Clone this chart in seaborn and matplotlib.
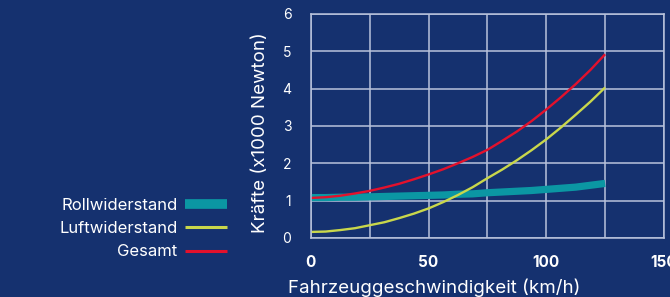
import pandas as pd
import matplotlib.pyplot as plt
import seaborn as sns

# speed (km/h) and forces (x1000 N)
speed = [0, 6.25, 12.5, 18.75, 25, 31.25, 37.5, 43.75, 50, 56.25, 62.5,
         68.75, 75, 81.25, 87.5, 93.75, 100, 106.25, 112.5, 118.75, 125]
roll = [1.08, 1.08, 1.09, 1.09, 1.10, 1.11, 1.12, 1.13, 1.14, 1.15, 1.17,
        1.18, 1.21, 1.23, 1.25, 1.27, 1.30, 1.33, 1.36, 1.41, 1.46]
luft = [0.16, 0.17, 0.21, 0.26, 0.34, 0.42, 0.53, 0.65, 0.79, 0.96, 1.15,
        1.36, 1.60, 1.83, 2.08, 2.35, 2.64, 2.96, 3.30, 3.65, 4.03]
gesamt = [1.07, 1.09, 1.13, 1.19, 1.26, 1.35, 1.45, 1.57, 1.70, 1.84, 2.00,
          2.17, 2.36, 2.60, 2.85, 3.13, 3.44, 3.77, 4.12, 4.50, 4.92]

bg = '#15316f'
grid = '#b9c3dc'
names = ['Rollwiderstand', 'Luftwiderstand', 'Gesamt']

df = pd.DataFrame({'v': speed, 'Rollwiderstand': roll, 'Luftwiderstand': luft, 'Gesamt': gesamt})
long = df.melt(id_vars='v', var_name='Kraft', value_name='F')

sns.set_style('dark')
plt.rcParams['font.family'] = ['Inter', 'DejaVu Sans']

fig = plt.figure(figsize=(6.7, 2.97), dpi=100, facecolor=bg)
ax = fig.add_axes([0.464, 0.199, 0.527, 0.754])
ax.set_facecolor(bg)

palette = {'Rollwiderstand': '#0b97a3', 'Luftwiderstand': '#c9d74b', 'Gesamt': '#e3112c'}
widths = {'Rollwiderstand': 5.2, 'Luftwiderstand': 1.7, 'Gesamt': 1.7}
for name in names:
    sns.lineplot(data=long[long['Kraft'] == name], x='v', y='F', color=palette[name],
                 linewidth=widths[name], label=name, ax=ax, solid_capstyle='butt')

ax.set_xlim(0, 150)
ax.set_ylim(0, 6)
ax.set_xticks([0, 25, 50, 75, 100, 125, 150])
ax.set_xticklabels(['0', '', '50', '', '100', '', '150'], fontweight='bold', fontsize=11)
ax.set_yticks(range(7))
ax.tick_params(axis='x', colors='white', length=0, pad=12)
ax.tick_params(axis='y', colors='white', length=0, pad=14, labelsize=10)
ax.grid(True, color=grid, linewidth=1.1)
for s in ax.spines.values():
    s.set_color(grid)
    s.set_linewidth(1.1)
ax.set_xlabel('Fahrzeuggeschwindigkeit (km/h)', color='white', fontsize=13.5)
ax.xaxis.set_label_coords(0.35, -0.18)
ax.set_ylabel('Kräfte (x1000 Newton)', color='white', fontsize=13.5)
ax.yaxis.set_label_coords(-0.118, 0.471)

leg = ax.legend(loc='upper right', bbox_to_anchor=(0.351, 0.362), bbox_transform=fig.transFigure,
                markerfirst=False, frameon=False, fontsize=12, handlelength=2.5,
                labelspacing=0.5, handletextpad=0.45, borderpad=0)
for t in leg.get_texts():
    t.set_color('white')
for h, name in zip(leg.get_lines(), names):
    h.set_linewidth({'Rollwiderstand': 7, 'Luftwiderstand': 2.2, 'Gesamt': 2.2}[name])

fig.savefig('out.png', dpi=100, facecolor=bg)
